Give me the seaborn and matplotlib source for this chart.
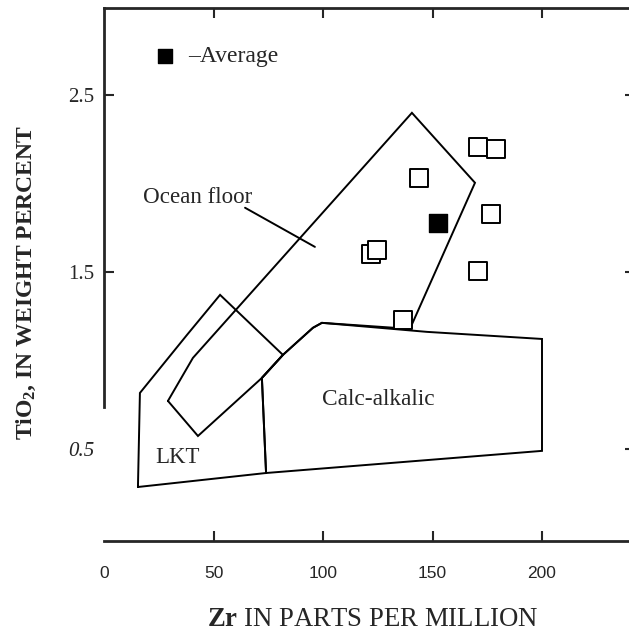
import matplotlib
matplotlib.use("Agg")
import matplotlib.pyplot as plt
import seaborn as sns
import pandas as pd

# ---------------- data ----------------
zr_samples = [170.8, 179.0, 143.8, 176.7, 121.9, 124.7, 170.8, 136.5]
tio2_samples = [2.206, 2.195, 2.031, 1.828, 1.602, 1.624, 1.506, 1.229]
zr_average = [152.5]
tio2_average = [1.777]

ocean_floor_zr = [29.2, 40.6, 140.6, 169.4, 139.7, 99.5, 95.4, 81.7, 72.1, 42.9, 29.2]
ocean_floor_tio2 = [0.771, 1.014, 2.398, 2.003, 1.178, 1.212, 1.184, 1.031, 0.901, 0.573, 0.771]
calc_zr = [72.1, 81.7, 95.4, 99.5, 147.5, 200.0, 200.0, 74.0, 72.1]
calc_tio2 = [0.901, 1.031, 1.184, 1.212, 1.161, 1.121, 0.489, 0.364, 0.901]
lkt_zr = [15.5, 16.4, 37.9, 53.0, 81.7, 72.1, 74.0, 15.5]
lkt_tio2 = [0.285, 0.816, 1.144, 1.370, 1.031, 0.901, 0.364, 0.285]
leader_zr = [64.4, 96.3]
leader_tio2 = [1.862, 1.641]

x_ticks = [0, 50, 100, 150, 200]
x_tick_labels = ["0", "50", "100", "150", "200"]
y_ticks = [0.5, 1.5, 2.5]
y_tick_labels = ["0.5", "1.5", "2.5"]

# ---------------- style ----------------
sns.set_style("ticks")
plt.rcParams["font.family"] = ["Liberation Serif", "DejaVu Sans"]
plt.rcParams["mathtext.fontset"] = "custom"
plt.rcParams["mathtext.rm"] = "Liberation Serif"
plt.rcParams["mathtext.bf"] = "Liberation Serif:bold"
plt.rcParams["mathtext.it"] = "Liberation Serif:italic"

fig = plt.figure(figsize=(6.29, 6.33), dpi=100)
ax = fig.add_axes([104 / 629, 1 - 541 / 633, 531 / 629, 533 / 633])

line_kw = dict(color="black", lw=1.4, solid_joinstyle="miter")
ax.plot(ocean_floor_zr, ocean_floor_tio2, **line_kw)
ax.plot(calc_zr, calc_tio2, **line_kw)
ax.plot(lkt_zr, lkt_tio2, **line_kw)
ax.plot(leader_zr, leader_tio2, **line_kw)

samples = pd.DataFrame({"Zr": zr_samples, "TiO2": tio2_samples})
average = pd.DataFrame({"Zr": zr_average, "TiO2": tio2_average})
sns.scatterplot(data=samples, x="Zr", y="TiO2", marker="s", s=150,
                facecolor="white", edgecolor="black", linewidth=1.4, ax=ax, zorder=3)
sns.scatterplot(data=average, x="Zr", y="TiO2", marker="s", s=150,
                color="black", edgecolor="black", linewidth=1.0, ax=ax, zorder=3,
                label="\u2013Average")

ax.set_xlim(0, 531 / 2.19)
ax.set_ylim(-0.02, 2.99)

ax.set_xticks(x_ticks, labels=x_tick_labels)
ax.set_yticks(y_ticks, labels=y_tick_labels)
for lab in ax.get_xticklabels():
    lab.set_fontfamily("Liberation Sans")
    lab.set_fontsize(12.5)
for lab in ax.get_yticklabels():
    lab.set_fontsize(15)
ax.get_yticklabels()[0].set_style("italic")

ax.tick_params(axis="x", direction="in", length=7, width=1.5, top=True, bottom=True,
               labeltop=False, pad=18)
ax.tick_params(axis="y", direction="in", length=7, width=1.5, left=True, right=True, pad=7)

xt = ax.xaxis.get_major_ticks()
xt[0].tick1line.set_visible(False)
xt[0].tick2line.set_visible(False)
yt = ax.yaxis.get_major_ticks()
yt[0].tick1line.set_visible(False)

for side in ["left", "top", "bottom"]:
    ax.spines[side].set_linewidth(2.0)
ax.spines["right"].set_visible(False)
ax.spines["left"].set_bounds(0.737, 2.99)

# labels
ax.set_xlabel(r"$\mathbf{Zr}$ IN PARTS PER MILLION", fontsize=19.3, va="center")
ax.xaxis.set_label_coords(269 / 531, -79 / 533)
ax.set_ylabel(r"$\mathbf{TiO_2}$, IN WEIGHT PERCENT", fontsize=17, fontweight="bold", va="center")
ax.yaxis.set_label_coords(-78 / 531, 259 / 533)

# region names
ax.text(17.8, 1.918, "Ocean floor", fontsize=16.6, va="center", ha="left")
ax.text(99.5, 0.777, "Calc-alkalic", fontsize=16.8, va="center", ha="left")
ax.text(23.3, 0.449, "LKT", fontsize=16.5, va="center", ha="left")

leg = ax.legend(loc="center left", bbox_to_anchor=(53 / 531, 485 / 533), frameon=False,
                fontsize=17, borderpad=0, borderaxespad=0, handlelength=0.7,
                handletextpad=0.62, markerscale=0.85)

ax.set_facecolor("white")
fig.patch.set_facecolor("white")
fig.savefig("out.png", dpi=100)
